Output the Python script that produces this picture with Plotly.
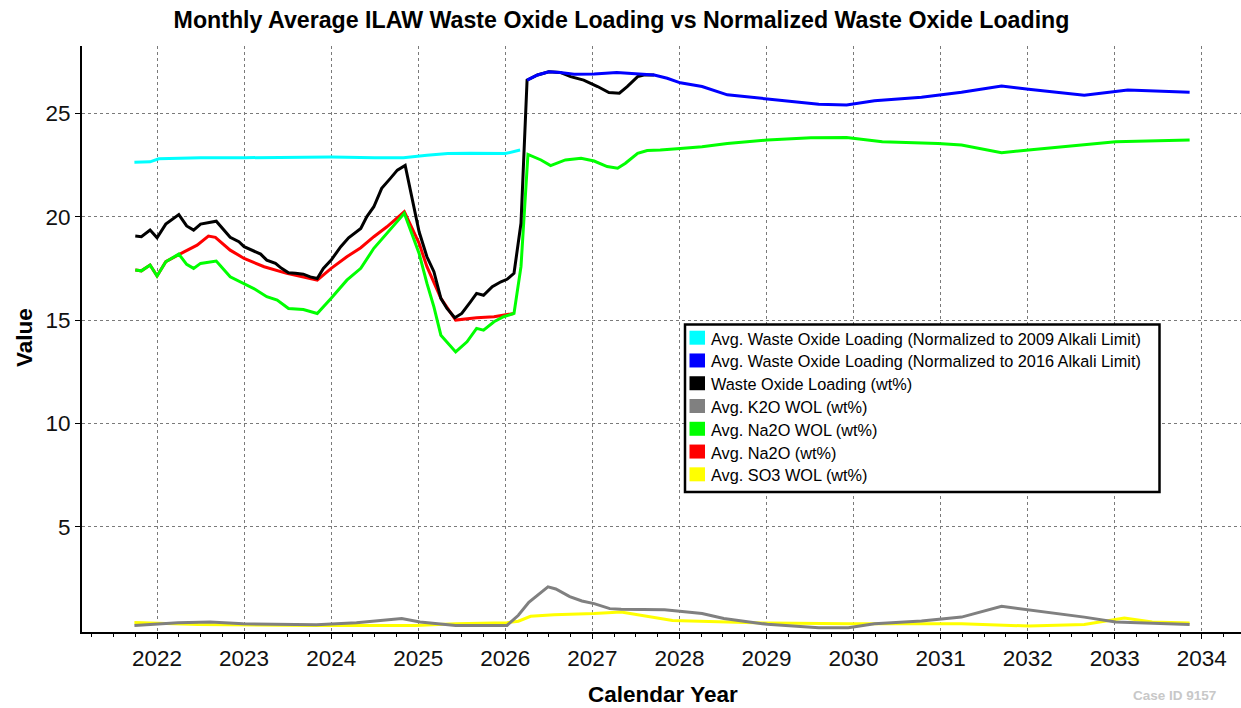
import plotly.graph_objects as go

# ---------------- data (decimal calendar years, values) ----------------
cyan_x = [2021.74, 2021.92, 2022.02, 2022.5, 2023.0, 2023.5, 2024.0, 2024.5, 2024.83, 2025.1, 2025.34, 2025.6, 2026.0, 2026.17]
cyan_y = [22.63, 22.65, 22.8, 22.85, 22.85, 22.87, 22.88, 22.85, 22.85, 22.97, 23.05, 23.07, 23.05, 23.22]

blue_x = [2026.25, 2026.37, 2026.5, 2026.63, 2026.79, 2027.02, 2027.28, 2027.48, 2027.71, 2027.86, 2028.01, 2028.26,
          2028.55, 2029.01, 2029.6, 2029.92, 2030.24, 2030.78, 2031.24, 2031.7, 2032.01, 2032.65, 2033.15, 2033.86]
blue_y = [26.6, 26.85, 27.0, 26.97, 26.88, 26.9, 26.97, 26.9, 26.85, 26.69, 26.47, 26.29,
          25.89, 25.69, 25.43, 25.4, 25.6, 25.77, 26.01, 26.32, 26.16, 25.87, 26.12, 26.01]

black_x = [2021.75, 2021.82, 2021.92, 2022.0, 2022.1, 2022.17, 2022.25, 2022.34, 2022.42, 2022.5, 2022.59, 2022.68,
           2022.84, 2022.94, 2023.0, 2023.11, 2023.19, 2023.26, 2023.36, 2023.43, 2023.51, 2023.59, 2023.68, 2023.76,
           2023.84, 2023.91, 2024.0, 2024.11, 2024.2, 2024.34, 2024.41, 2024.49, 2024.58, 2024.68, 2024.76, 2024.85,
           2025.01, 2025.1, 2025.18, 2025.26, 2025.33, 2025.42, 2025.5, 2025.6, 2025.67, 2025.75, 2025.85, 2025.95,
           2026.02, 2026.1, 2026.18, 2026.25, 2026.37, 2026.5, 2026.63, 2026.75, 2026.9, 2027.06, 2027.19, 2027.31,
           2027.4, 2027.52, 2027.59, 2027.71]
black_y = [19.06, 19.03, 19.35, 18.98, 19.64, 19.87, 20.1, 19.55, 19.35, 19.64, 19.7, 19.78,
           19.0, 18.79, 18.55, 18.34, 18.19, 17.9, 17.74, 17.5, 17.29, 17.26, 17.22, 17.09,
           17.01, 17.5, 17.9, 18.55, 18.98, 19.43, 20.0, 20.48, 21.37, 21.85, 22.25, 22.48,
           19.27, 18.06, 17.34, 16.05, 15.56, 15.11, 15.32, 15.88, 16.29, 16.2, 16.61, 16.85,
           16.97, 17.26, 19.68, 26.6, 26.85, 27.0, 26.97, 26.77, 26.6, 26.29, 26.0, 25.97,
           26.29, 26.77, 26.85, 26.85]

grey_x = [2021.74, 2022.02, 2022.24, 2022.61, 2022.99, 2023.83, 2024.29, 2024.81, 2025.02, 2025.43, 2026.02, 2026.15,
          2026.27, 2026.49, 2026.58, 2026.74, 2026.88, 2027.02, 2027.2, 2027.33, 2027.83, 2028.26, 2028.51, 2029.01,
          2029.6, 2029.94, 2030.24, 2030.78, 2031.24, 2031.7, 2032.01, 2032.65, 2033.01, 2033.86]
grey_y = [0.24, 0.32, 0.37, 0.40, 0.32, 0.27, 0.37, 0.57, 0.40, 0.24, 0.24, 0.73,
          1.36, 2.1, 2.0, 1.63, 1.42, 1.29, 1.05, 1.02, 1.0, 0.81, 0.57, 0.29,
          0.13, 0.13, 0.32, 0.45, 0.64, 1.16, 1.0, 0.64, 0.40, 0.28]

green_x = [2021.75, 2021.82, 2021.92, 2022.0, 2022.1, 2022.17, 2022.25, 2022.34, 2022.42, 2022.5, 2022.59, 2022.68,
           2022.84, 2023.0, 2023.13, 2023.26, 2023.38, 2023.51, 2023.68, 2023.84, 2024.0, 2024.18, 2024.34, 2024.49,
           2024.64, 2024.84, 2025.01, 2025.1, 2025.18, 2025.26, 2025.43, 2025.56, 2025.67, 2025.75, 2025.87, 2025.98,
           2026.1, 2026.18, 2026.26, 2026.41, 2026.52, 2026.69, 2026.87, 2027.02, 2027.17, 2027.29, 2027.38, 2027.52,
           2027.63, 2027.78, 2028.01, 2028.26, 2028.55, 2029.01, 2029.51, 2029.92, 2030.33, 2030.97, 2031.24, 2031.7,
           2032.01, 2032.65, 2033.01, 2033.86]
green_y = [17.42, 17.38, 17.66, 17.13, 17.82, 17.98, 18.19, 17.69, 17.5, 17.74, 17.79, 17.85,
           17.09, 16.77, 16.48, 16.13, 15.97, 15.56, 15.51, 15.32, 16.05, 16.93, 17.5, 18.47,
           19.19, 20.16, 18.22, 16.77, 15.64, 14.27, 13.46, 13.95, 14.6, 14.51, 14.92, 15.16,
           15.32, 17.58, 23.01, 22.74, 22.47, 22.74, 22.82, 22.69, 22.42, 22.34, 22.58, 23.06,
           23.2, 23.22, 23.3, 23.38, 23.54, 23.71, 23.82, 23.83, 23.62, 23.54, 23.46, 23.09,
           23.22, 23.46, 23.62, 23.71]

red_x = [2021.75, 2021.82, 2021.92, 2022.0, 2022.1, 2022.17, 2022.25, 2022.31, 2022.46, 2022.59, 2022.67, 2022.84,
         2023.0, 2023.23, 2023.49, 2023.68, 2023.84, 2024.0, 2024.18, 2024.34, 2024.49, 2024.64, 2024.84, 2025.01,
         2025.1, 2025.26, 2025.43, 2025.67, 2025.87, 2026.1]
red_y = [17.42, 17.38, 17.66, 17.13, 17.82, 17.98, 18.19, 18.3, 18.62, 19.06, 19.0, 18.38,
         17.98, 17.58, 17.26, 17.09, 16.93, 17.5, 18.06, 18.5, 19.03, 19.51, 20.24, 18.71,
         17.58, 16.05, 15.0, 15.11, 15.16, 15.32]

yellow_x = [2021.74, 2022.47, 2023.83, 2024.97, 2025.43, 2026.02, 2026.15, 2026.29, 2026.56, 2027.02, 2027.33, 2027.55,
            2027.92, 2029.01, 2029.94, 2031.24, 2031.7, 2032.01, 2032.65, 2033.11, 2033.43, 2033.86]
yellow_y = [0.38, 0.28, 0.24, 0.24, 0.32, 0.37, 0.44, 0.68, 0.75, 0.81, 0.89, 0.73,
            0.48, 0.35, 0.32, 0.32, 0.24, 0.21, 0.28, 0.6, 0.40, 0.35]

series_names = [
    "Avg. Waste Oxide Loading (Normalized to 2009 Alkali Limit)",
    "Avg. Waste Oxide Loading (Normalized to 2016 Alkali Limit)",
    "Waste Oxide Loading (wt%)",
    "Avg. K2O WOL (wt%)",
    "Avg. Na2O WOL (wt%)",
    "Avg. Na2O (wt%)",
    "Avg. SO3 WOL (wt%)",
]
series_colors = ["#00FFFF", "#0000FF", "#000000", "#808080", "#00FF00", "#FF0000", "#FFFF00"]
series_data = [(cyan_x, cyan_y), (blue_x, blue_y), (black_x, black_y), (grey_x, grey_y),
               (green_x, green_y), (red_x, red_y), (yellow_x, yellow_y)]

year_ticks = list(range(2022, 2035))
value_ticks = [5, 10, 15, 20, 25]

# ---------------- figure ----------------
FONT = "Liberation Sans Narrow, Arial Narrow, Liberation Sans, Arial, sans-serif"
W, H = 1241, 708
ML, MR, MT, MB = 82, 0, 46, 76
PW, PH = W - ML - MR, H - MT - MB


def px(x):
    return (x - ML) / PW


def py(y):
    return (H - MB - y) / PH


fig = go.Figure()

# draw order: reverse of legend order
draw_order = [6, 5, 4, 3, 2, 1, 0]
for i in draw_order:
    xs, ys = series_data[i]
    fig.add_trace(go.Scatter(x=xs, y=ys, mode="lines", name=series_names[i],
                             line=dict(color=series_colors[i], width=3),
                             showlegend=False))

# manual legend (box, swatches, labels)
shapes = []
annotations = []
box_l, box_t, box_r, box_b = 685, 324.5, 1159.5, 492
shapes.append(dict(type="rect", xref="paper", yref="paper",
                   x0=px(box_l), x1=px(box_r), y0=py(box_b), y1=py(box_t),
                   line=dict(color="black", width=2.5), fillcolor="white", layer="above"))
row0, row_step = 337.7, 22.77
for k, (name, col) in enumerate(zip(series_names, series_colors)):
    cy = row0 + k * row_step
    shapes.append(dict(type="rect", xref="paper", yref="paper",
                       x0=px(689.5), x1=px(705), y0=py(cy + 7), y1=py(cy - 7),
                       line=dict(width=0), fillcolor=col, layer="above"))
    annotations.append(dict(text=name, xref="paper", yref="paper",
                            x=px(709), y=py(cy + 1), xanchor="left", yanchor="middle",
                            showarrow=False, font=dict(family=FONT, size=16.3, color="black")))

# axis titles and footer
annotations.append(dict(text="<b>Calendar Year</b>", xref="paper", yref="paper",
                        x=px(662.5), y=py(694), xanchor="center", yanchor="middle",
                        showarrow=False, font=dict(family=FONT, size=22.5, color="black")))
annotations.append(dict(text="<b>Value</b>", xref="paper", yref="paper",
                        x=px(24), y=py(338), xanchor="center", yanchor="middle", textangle=-90,
                        showarrow=False, font=dict(family=FONT, size=22.5, color="black")))
annotations.append(dict(text="<b>Case ID 9157</b>", xref="paper", yref="paper",
                        x=px(1174), y=py(695), xanchor="center", yanchor="middle",
                        showarrow=False, font=dict(family=FONT, size=13.5, color="#c8c8c8")))

fig.update_layout(
    width=W, height=H,
    margin=dict(l=ML, r=MR, t=MT, b=MB, pad=0),
    paper_bgcolor="white", plot_bgcolor="white",
    title=dict(text="<b>Monthly Average ILAW Waste Oxide Loading vs Normalized Waste Oxide Loading</b>",
               x=(621.5 / W), xanchor="center", y=1 - 20 / H, yanchor="middle",
               font=dict(family=FONT, size=23.2, color="black")),
    font=dict(family=FONT, color="black"),
    showlegend=False,
    shapes=shapes,
    annotations=annotations,
)

fig.update_xaxes(range=[2021.138, 2034.45], tickmode="array", tickvals=year_ticks,
                 ticktext=[str(v) for v in year_ticks],
                 tickfont=dict(family=FONT, size=22.5, color="#111"),
                 showgrid=True, gridcolor="#7a7a7a", griddash="dot", gridwidth=1,
                 showline=True, linecolor="black", linewidth=2,
                 ticks="outside", ticklen=5, tickwidth=1, tickcolor="black",
                 minor=dict(ticks="outside", ticklen=3, tickwidth=1, tickcolor="black",
                            dtick=0.25, tick0=2022, showgrid=False),
                 zeroline=False)
fig.update_yaxes(range=[-0.08, 28.25], tickmode="array", tickvals=value_ticks,
                 ticktext=[str(v) for v in value_ticks],
                 tickfont=dict(family=FONT, size=22.5, color="#111"),
                 showgrid=True, gridcolor="#7a7a7a", griddash="dot", gridwidth=1,
                 showline=True, linecolor="black", linewidth=2,
                 ticks="outside", ticklen=5, tickwidth=1, tickcolor="black",
                 zeroline=False)

fig.write_html("out.html",
               config={"displayModeBar": False},
               post_script="document.body.style.margin='0';document.body.style.overflow='hidden';")
